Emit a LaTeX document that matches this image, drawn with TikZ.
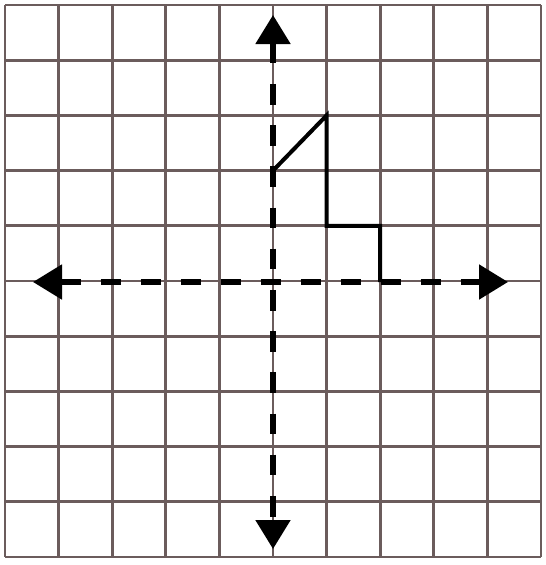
\documentclass[tikz,border=0pt]{standalone}
\usetikzlibrary{arrows.meta}
\definecolor{gridc}{RGB}{107,92,92}
\begin{document}
\begin{tikzpicture}[x=1pt,y=-1pt,
  gridline/.style={draw=gridc,line width=2.8pt},
  axisline/.style={draw=black,line width=5.2pt,
     {Triangle[length=29pt,width=34pt]}-{Triangle[length=29pt,width=34pt]}},
  figline/.style={draw=black,line width=4pt,line join=miter}]
\useasboundingbox (0,0) rectangle (546,565);
% grid
\foreach \i in {0,...,10}{
  \draw[gridline] ({5+53.6*\i},5) -- ({5+53.6*\i},557);
  \draw[gridline] (5,{5+55.2*\i}) -- (541,{5+55.2*\i});
}
% axes
\coordinate (xl) at (33,282);
\coordinate (xr) at (508,282);
\coordinate (yt) at (273,15);
\coordinate (yb) at (273,549);
\draw[axisline,dash pattern=on 20pt off 20pt] (xl) -- (xr);
\draw[axisline,dash pattern=on 20.6pt off 20.6pt] (yt) -- (yb);
% figure
\coordinate (p1) at (273,170.6);
\coordinate (p2) at (326.6,115.4);
\coordinate (p3) at (326.6,225.8);
\coordinate (p4) at (380.2,225.8);
\coordinate (p5) at (380.2,282);
\draw[figline] (p1) -- (p2) -- (p3) -- (p4) -- (p5);
\end{tikzpicture}
\end{document}
